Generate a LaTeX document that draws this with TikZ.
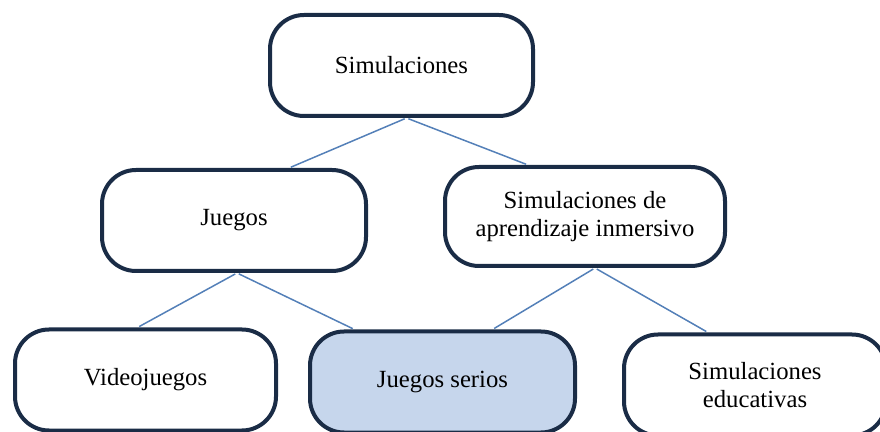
\documentclass[tikz,border=0pt]{standalone}
\usepackage{fontspec}
\setmainfont{Liberation Serif}
\usetikzlibrary{positioning}
\definecolor{boxline}{RGB}{26,44,70}
\definecolor{linkblue}{RGB}{84,128,184}
\definecolor{lightblue}{RGB}{198,214,236}

\begin{document}
\begin{tikzpicture}[x=1pt, y=1pt,
  box/.style={rectangle, rounded corners=34pt, draw=boxline, line width=4pt, fill=white,
    minimum width=263pt, minimum height=101pt, align=center,
    font=\fontsize{24.7}{28}\selectfont},
  link/.style={draw=linkblue, line width=1.5pt, shorten <=2pt, shorten >=2pt}]
\useasboundingbox (0,0) rectangle (880,431);

\node [box] (sim) at (401.5,365.5) {Simulaciones};

%second row
\node [box, minimum width=264pt] (jue) at (234,210.5) {Juegos};
\node [box, minimum width=280pt, minimum height=99pt] (inm) [right=75pt of jue, yshift=4pt] {Simulaciones de\\aprendizaje inmersivo};
\draw [link] ([xshift=5pt]sim.south) -- ([xshift=55pt]jue.north);
\draw [link] ([xshift=5pt]sim.south) -- ([xshift=-57pt]inm.north);

%third row
\node [box, minimum width=261pt] (vid) at (145.5,51) {Videojuegos};
\node [box, fill=lightblue, minimum width=265pt] (ser) [right=30pt of vid, yshift=-2pt] {Juegos serios};
\node [box, minimum width=262pt] (edu) [right=45pt of ser, yshift=-3pt] {Simulaciones\\educativas};
\draw [link] ([xshift=3pt]jue.south) -- ([xshift=-8pt]vid.north);
\draw [link] ([xshift=3pt]jue.south) -- ([xshift=-88pt]ser.north);
\draw [link] ([xshift=10pt]inm.south) -- ([xshift=50pt]ser.north);
\draw [link] ([xshift=10pt]inm.south) -- ([xshift=-47pt]edu.north);

\end{tikzpicture}
\end{document}
